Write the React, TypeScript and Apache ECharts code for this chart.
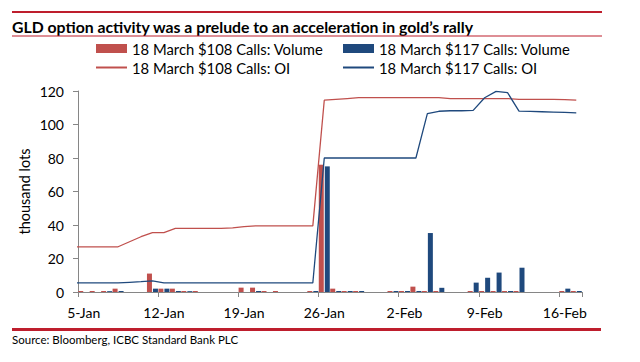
import React, { useEffect, useRef } from "react";
import * as echarts from "echarts";

// Calendar days shown on the axis (5-Jan to 17-Feb)
const days = [
  "5-Jan", "6-Jan", "7-Jan", "8-Jan", "9-Jan", "10-Jan", "11-Jan",
  "12-Jan", "13-Jan", "14-Jan", "15-Jan", "16-Jan", "17-Jan", "18-Jan",
  "19-Jan", "20-Jan", "21-Jan", "22-Jan", "23-Jan", "24-Jan", "25-Jan",
  "26-Jan", "27-Jan", "28-Jan", "29-Jan", "30-Jan", "31-Jan", "1-Feb",
  "2-Feb", "3-Feb", "4-Feb", "5-Feb", "6-Feb", "7-Feb", "8-Feb",
  "9-Feb", "10-Feb", "11-Feb", "12-Feb", "13-Feb", "14-Feb", "15-Feb",
  "16-Feb", "17-Feb",
];

// Volumes (thousand lots), one per day above
const vol108 = [
  0.6, 0.6, 0.6, 2.0, 0, 0, 11, 2.0, 2.0, 0.6, 0.6, 0, 0, 0,
  2.6, 2.6, 0.6, 0.6, 0, 0, 0.6, 76, 2.0, 0.6, 0.6, 0, 0, 0.6,
  0.6, 3.2, 0.6, 0.6, 0, 0, 0.6, 0.6, 0.6, 0.6, 0.6, 0, 0, 0,
  0.6, 0.6,
];
const vol117 = [
  0, 0, 0.5, 0.6, 0, 0, 2.0, 2.0, 0.6, 0.5, 0, 0, 0, 0,
  0, 0.6, 0, 0, 0, 0, 0.6, 75, 0.6, 0.6, 0.6, 0, 0, 0.6,
  0.6, 0.6, 35.2, 2.5, 0, 0, 5.6, 8.5, 11.6, 0.6, 14.5, 0, 0, 0,
  2.0, 0.6,
];

// Open interest (thousand lots), starting one day before the axis (4-Jan) to 17-Feb
const oi108 = [
  27, 27, 27, 27, 27, 30, 33, 35.5, 35.5, 38, 38, 38, 38, 38, 38.3,
  39, 39.5, 39.5, 39.5, 39.5, 39.5, 39.5, 114.5, 115, 115.5, 116, 116, 116,
  116, 116, 116, 116, 116, 115.5, 115.5, 115.5, 115.5, 115.5, 115.5, 115, 115,
  115, 115, 114.8, 114.5,
];
const oi117 = [
  5.4, 5.4, 5.4, 5.4, 5.4, 5.8, 6.2, 6.7, 5.4, 5.4, 5.4, 5.4, 5.4, 5.4, 5.4,
  5.4, 5.4, 5.4, 5.4, 5.4, 5.4, 5.4, 80, 80, 80, 80, 80, 80,
  80, 80, 80, 106.5, 107.9, 108.2, 108.2, 108.4, 116, 119.8, 119, 108, 107.8,
  107.6, 107.4, 107.2, 107,
];

const yTicks = [0, 20, 40, 60, 80, 100, 120];

const NAME_V108 = "18 March $108 Calls: Volume";
const NAME_V117 = "18 March $117 Calls: Volume";
const NAME_O108 = "18 March $108 Calls: OI";
const NAME_O117 = "18 March $117 Calls: OI";

const TITLE = "GLD option activity was a prelude to an acceleration in gold\u2019s rally";
const SOURCE = "Source: Bloomberg, ICBC Standard Bank PLC";

const RED = "#C0504D";
const BLUE = "#1F497D";
const BRAND = "#BE1E2D";
const FONT = "Lato";

export default function App() {
  const ref = useRef<HTMLDivElement>(null);

  useEffect(() => {
    if (!ref.current) return;
    const chart = echarts.init(ref.current, null, { renderer: "svg" });
    const linePts = (arr: number[]) => arr.map((v, i) => [i - 0.5, v]);
    const legendText = { color: "#000", fontSize: 14.8, fontFamily: FONT, lineHeight: 14 };

    chart.setOption({
      animation: false,
      textStyle: { fontFamily: FONT },
      grid: { left: 78, right: 58, top: 91, bottom: 70, outerBoundsMode: "none" },
      xAxis: [
        {
          type: "category",
          data: days,
          boundaryGap: true,
          axisLine: { lineStyle: { color: "#868686", width: 1 } },
          axisTick: { show: true, length: 5, interval: 6, lineStyle: { color: "#868686" } },
          axisLabel: {
            interval: 6,
            color: "#000",
            fontSize: 14,
            fontFamily: FONT,
            margin: 13,
          },
          splitLine: { show: false },
        },
        {
          type: "value",
          min: 0,
          max: days.length,
          show: false,
          splitLine: { show: false },
        },
      ],
      yAxis: {
        type: "value",
        min: yTicks[0],
        max: yTicks[yTicks.length - 1],
        interval: 20,
        name: "thousand lots",
        nameLocation: "middle",
        nameRotate: 90,
        nameGap: 46,
        nameMoveOverlap: false,
        nameTextStyle: { color: "#000", fontSize: 14.5, fontFamily: FONT },
        axisLine: { show: true, lineStyle: { color: "#868686", width: 1 } },
        axisTick: { show: true, length: 5, lineStyle: { color: "#868686" } },
        axisLabel: { color: "#000", fontSize: 14, fontFamily: FONT, margin: 14 },
        splitLine: { show: false },
      },
      legend: [
        {
          orient: "vertical",
          left: 95,
          top: 41,
          itemWidth: 31,
          itemHeight: 9,
          itemGap: 4,
          padding: 0,
          textStyle: legendText,
          data: [
            { name: NAME_V108, icon: "rect" },
            { name: NAME_O108, itemStyle: { opacity: 0 } },
          ],
        },
        {
          orient: "vertical",
          left: 342,
          top: 41,
          itemWidth: 31,
          itemHeight: 9,
          itemGap: 4,
          padding: 0,
          textStyle: legendText,
          data: [
            { name: NAME_V117, icon: "rect" },
            { name: NAME_O117, itemStyle: { opacity: 0 } },
          ],
        },
      ],
      series: [
        {
          name: NAME_V108,
          type: "bar",
          xAxisIndex: 0,
          data: vol108,
          barWidth: 5,
          barGap: "20%",
          itemStyle: { color: RED },
        },
        {
          name: NAME_V117,
          type: "bar",
          xAxisIndex: 0,
          data: vol117,
          barWidth: 5,
          barGap: "20%",
          itemStyle: { color: BLUE },
        },
        {
          name: NAME_O108,
          type: "line",
          xAxisIndex: 1,
          data: linePts(oi108),
          symbol: "none",
          clip: true,
          lineStyle: { color: RED, width: 1.3 },
          itemStyle: { color: RED },
        },
        {
          name: NAME_O117,
          type: "line",
          xAxisIndex: 1,
          data: linePts(oi117),
          symbol: "none",
          clip: true,
          lineStyle: { color: BLUE, width: 1.3 },
          itemStyle: { color: BLUE },
        },
      ],
      graphic: [
        { type: "rect", shape: { x: 12, y: 11, width: 590, height: 2 }, style: { fill: BRAND } },
        {
          type: "text",
          x: 12,
          y: 26,
          style: {
            text: TITLE,
            fill: "#000",
            fontFamily: FONT,
            fontSize: 15.8,
            fontWeight: "bold",
            verticalAlign: "middle",
          },
        },
        { type: "rect", shape: { x: 12, y: 35.5, width: 590, height: 1 }, style: { fill: BRAND } },
        { type: "rect", shape: { x: 12, y: 328, width: 589, height: 3 }, style: { fill: BRAND } },
        {
          type: "text",
          x: 12,
          y: 339,
          style: {
            text: SOURCE,
            fill: "#000",
            fontFamily: FONT,
            fontSize: 11.5,
            verticalAlign: "middle",
          },
        },
      ],
    });

    return () => chart.dispose();
  }, []);

  return (
    <div
      ref={ref}
      style={{ position: "fixed", left: 0, top: 0, width: 640, height: 362, background: "#fff" }}
    />
  );
}
